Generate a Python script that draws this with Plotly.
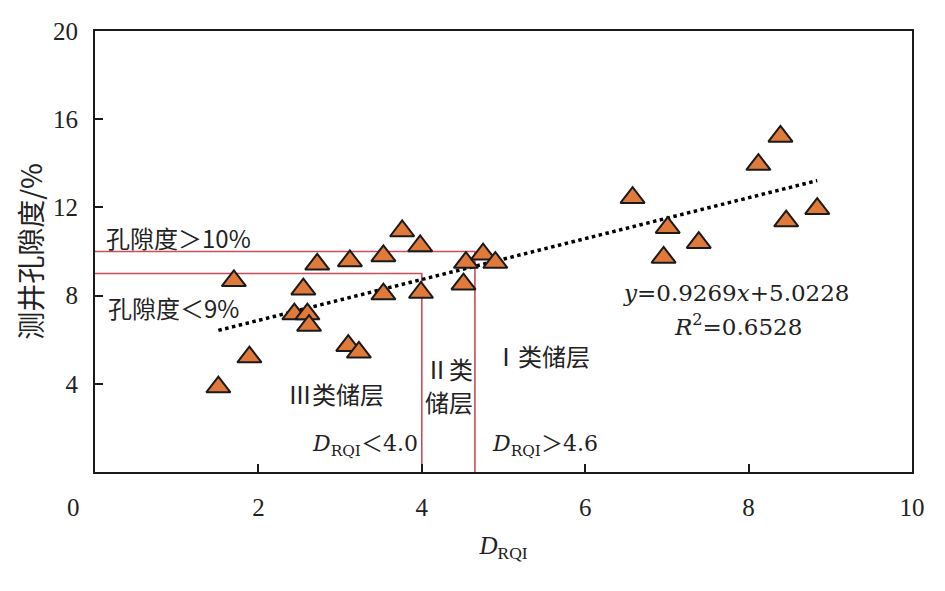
import plotly.graph_objects as go
import numpy as np

# data
drqi = [1.70, 1.89, 1.51, 2.55, 2.44, 2.60, 2.62, 2.72, 3.12, 3.10, 3.23, 3.53, 3.53, 3.76,
        3.98, 3.99, 4.54, 4.51, 4.75, 4.90, 6.58, 7.01, 6.96, 7.39, 8.12, 8.39, 8.46, 8.84]
poro = [8.67, 5.21, 3.85, 8.29, 7.16, 7.16, 6.64, 9.42, 9.57, 5.73, 5.43, 9.80, 8.07, 10.93,
        10.25, 8.14, 9.50, 8.52, 9.88, 9.50, 12.44, 11.08, 9.73, 10.40, 13.94, 15.22, 11.38, 11.94]
fit_slope = 0.9269
fit_intercept = 5.0228
x_ticks = [2, 4, 6, 8, 10]
y_ticks = [4, 8, 12, 16, 20]
poro_hi = 10
poro_lo = 9
drqi_lo = 4.0
drqi_hi = 4.65

RED = "#c9505a"
SERIF = "Liberation Serif, Noto Sans CJK SC"
WIDE_SERIF = "DejaVu Serif, Noto Sans CJK SC"
CJK = "Noto Sans CJK SC"
TXT = "#222"

fig = go.Figure()

# boundary lines
fig.add_trace(go.Scatter(x=[0, drqi_hi, drqi_hi], y=[poro_hi, poro_hi, 0], mode="lines",
                         line=dict(color=RED, width=1.6), hoverinfo="skip", showlegend=False))
fig.add_trace(go.Scatter(x=[0, drqi_lo, drqi_lo], y=[poro_lo, poro_lo, 0], mode="lines",
                         line=dict(color=RED, width=1.6), hoverinfo="skip", showlegend=False))

# trend line
xf = np.array([min(drqi), max(drqi)])
yf = fit_slope * xf + fit_intercept
fig.add_trace(go.Scatter(x=xf, y=yf, mode="lines",
                         line=dict(color="black", width=3.5, dash="dot"),
                         hoverinfo="skip", showlegend=False))

# points
fig.add_trace(go.Scatter(x=drqi, y=poro, mode="markers",
                         marker=dict(symbol="triangle-up", size=21, color="#e07a3a",
                                     line=dict(color="#1a1a1a", width=2)),
                         showlegend=False))

def ann(x, y, text, size=24, xanchor="center", family=CJK, xref="x", yref="y"):
    fig.add_annotation(x=x, y=y, text=text, showarrow=False, xref=xref, yref=yref,
                       xanchor=xanchor, yanchor="middle",
                       font=dict(family=family, size=size, color=TXT))

ann(0.11, 10.64, "孔隙度＞10%", xanchor="left")
ann(0.14, 7.48, "孔隙度＜9%", xanchor="left")
ann(2.95, 3.55, "Ⅲ类储层")
ann(4.33, 4.68, "Ⅱ类")
ann(4.33, 3.19, "储层")
ann(5.47, 5.28, "Ⅰ类储层")
ann(7.85, 8.11, "<i>y</i>=0.9269<i>x</i>+5.0228", size=23, family=WIDE_SERIF)
ann(7.87, 6.67, "<i>R</i><sup>2</sup>=0.6528", size=23, family=WIDE_SERIF)
ann(3.30, 1.2, "<i>D</i><sub>RQI</sub>＜4.0", size=22, family=WIDE_SERIF)
ann(5.51, 1.2, "<i>D</i><sub>RQI</sub>＞4.6", size=22, family=WIDE_SERIF)
# origin label (plot-area relative coordinates)
fig.add_annotation(x=(73 - 95) / 817, y=(472 - 507) / 441, xref="paper", yref="paper", text="0",
                   showarrow=False, xanchor="center", yanchor="middle",
                   font=dict(family=SERIF, size=25, color=TXT))

fig.update_layout(
    width=945, height=591,
    margin=dict(l=87, r=41, t=23, b=127),
    plot_bgcolor="white", paper_bgcolor="white",
    showlegend=False,
    xaxis=dict(range=[0, 10], tickvals=x_ticks, ticks="inside", ticklen=8, tickwidth=2,
               tickcolor="#1a1a1a", showline=True, linecolor="#1a1a1a", linewidth=2,
               mirror=True, showgrid=False, zeroline=False, ticklabelstandoff=12,
               automargin=False,
               tickfont=dict(family=SERIF, size=25, color=TXT),
               title=dict(text="<i>D</i><sub>RQI</sub>", standoff=16,
                          font=dict(family=SERIF, size=25, color=TXT))),
    yaxis=dict(range=[0, 20], tickvals=y_ticks, ticks="inside", ticklen=8, tickwidth=2,
               tickcolor="#1a1a1a", showline=True, linecolor="#1a1a1a", linewidth=2,
               mirror=True, showgrid=False, zeroline=False, ticklabelstandoff=10,
               automargin=False,
               tickfont=dict(family=SERIF, size=25, color=TXT),
               title=dict(text="测井孔隙度/%", standoff=2,
                          font=dict(family=CJK, size=28, color=TXT))),
)

fig.write_html("out.html")
